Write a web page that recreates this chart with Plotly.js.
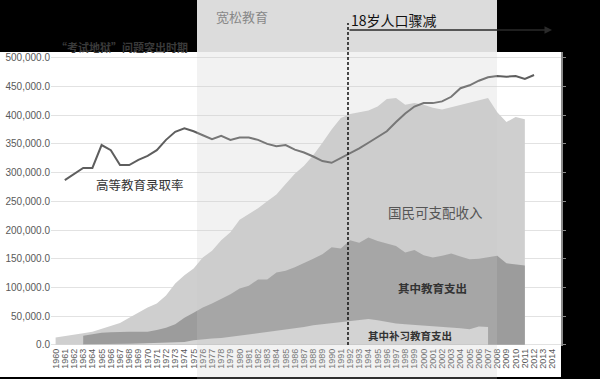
<!DOCTYPE html>
<html><head><meta charset="utf-8">
<script src="https://cdn.plot.ly/plotly-3.0.1.min.js"></script>
<style>html,body{margin:0;padding:0;background:#000;}#chart{width:600px;height:379px;}</style>
</head><body><div id="chart"></div>
<script>
// Years
const incomeYears = [1960,1961,1962,1963,1964,1965,1966,1967,1968,1969,1970,1971,1972,1973,1974,1975,1976,1977,1978,1979,1980,1981,1982,1983,1984,1985,1986,1987,1988,1989,1990,1991,1992,1993,1994,1995,1996,1997,1998,1999,2000,2001,2002,2003,2004,2005,2006,2007,2008,2009,2010,2011];
// 国民可支配收入
const incomeValues = [13000,15000,17000,20000,23000,28000,33000,38000,47000,56000,65000,72000,86000,107000,121000,133000,152000,164000,182000,196000,218000,228000,238000,250000,262000,280000,298000,312000,330000,352000,375000,395000,402000,405000,408000,415000,428000,430000,418000,421000,418000,413000,410000,414000,418000,421000,425000,430000,405000,388000,397000,393000];
const eduYears = [1963,1964,1965,1966,1967,1968,1969,1970,1971,1972,1973,1974,1975,1976,1977,1978,1979,1980,1981,1982,1983,1984,1985,1986,1987,1988,1989,1990,1991,1992,1993,1994,1995,1996,1997,1998,1999,2000,2001,2002,2003,2004,2005,2006,2007,2008,2009,2010,2011];
// 其中教育支出
const eduValues = [16000,19000,21000,22000,23000,23000,23000,23000,26000,30000,36000,47000,56000,65000,72000,80000,88000,98000,103000,114000,114000,126000,129000,135000,142000,150000,158000,170000,168000,182000,178000,187000,181000,176000,172000,161000,165000,156000,152000,155000,159000,154000,149000,150000,152000,155000,142000,140000,138000];
const tutorYears = [1963,1964,1965,1966,1967,1968,1969,1970,1971,1972,1973,1974,1975,1976,1977,1978,1979,1980,1981,1982,1983,1984,1985,1986,1987,1988,1989,1990,1991,1992,1993,1994,1995,1996,1997,1998,1999,2000,2001,2002,2003,2004,2005,2006,2007];
// 其中补习教育支出
const tutorValues = [1000,1000,1500,2000,2000,2000,2500,3000,3000,3500,4000,5000,8000,10000,11000,12000,14000,16000,18000,20000,22000,24000,26000,28000,31000,34000,36000,38000,40000,42000,44000,45000,43000,40000,37000,36000,35000,34000,33000,32000,31000,29000,27000,32000,31000];
const rateYears = [1961,1962,1963,1964,1965,1966,1967,1968,1969,1970,1971,1972,1973,1974,1975,1976,1977,1978,1979,1980,1981,1982,1983,1984,1985,1986,1987,1988,1989,1990,1991,1992,1993,1994,1995,1996,1997,1998,1999,2000,2001,2002,2003,2004,2005,2006,2007,2008,2009,2010,2011,2012];
// 高等教育录取率 (plotted on the unlabeled right axis)
const rateValues = [287000,297000,308000,308000,348000,339000,313000,313000,322000,329000,339000,357000,371000,377000,372000,365000,358000,364000,357000,361000,361000,357000,350000,346000,348000,340000,335000,328000,320000,317000,325000,334000,342000,352000,362000,372000,388000,403000,415000,421000,421000,424000,432000,447000,452000,460000,466000,468000,467000,468000,463000,470000];
const tickYears = [];
for (let y = 1960; y <= 2014; y++) tickYears.push(y);

const cjk = '"Noto Sans CJK SC", "Noto Sans", sans-serif';
const yRange = [-2000, 510000];

const traces = [
  {x: incomeYears, y: incomeValues, type: 'scatter', mode: 'lines', fill: 'tozeroy',
   fillcolor: '#cfcfcf', line: {color: '#cfcfcf', width: 0}, hoverinfo: 'skip', name: '国民可支配收入'},
  {x: eduYears, y: eduValues, type: 'scatter', mode: 'lines', fill: 'tozeroy',
   fillcolor: '#9c9c9c', line: {color: '#9c9c9c', width: 0}, hoverinfo: 'skip', name: '其中教育支出'},
  {x: tutorYears, y: tutorValues, type: 'scatter', mode: 'lines', fill: 'tozeroy',
   fillcolor: '#d6d6d6', line: {color: '#d6d6d6', width: 0}, hoverinfo: 'skip', name: '其中补习教育支出'},
  {x: rateYears, y: rateValues, type: 'scatter', mode: 'lines', yaxis: 'y2',
   line: {color: '#5e5e5e', width: 2}, hoverinfo: 'skip', name: '高等教育录取率'}
];

const px = p => (p - 51) / 510;
const py = p => (346 - p) / 294;

function label(x, y, text, size, color) {
  return {xref: 'paper', yref: 'paper', x: px(x), y: py(y), xanchor: 'center', yanchor: 'middle',
          text: text, showarrow: false, font: {family: cjk, size: size, color: color}};
}

const layout = {
  width: 600, height: 379,
  margin: {l: 51, r: 39, t: 52, b: 33, pad: 0},
  paper_bgcolor: '#000000',
  plot_bgcolor: '#ffffff',
  showlegend: false,
  font: {family: '"Liberation Sans", Arial, sans-serif', color: '#595959'},
  xaxis: {
    range: [1959.5, 2014.93], tickmode: 'array', tickvals: tickYears, ticktext: tickYears.map(String),
    tickangle: -90, tickfont: {size: 9, color: '#595959'}, showgrid: false, zeroline: false,
    showline: false, ticks: '', fixedrange: true
  },
  yaxis: {
    range: yRange, tick0: 0, dtick: 50000, tickformat: ',.1f', gridcolor: '#e2e2e2', gridwidth: 1,
    zeroline: false, showline: false, ticks: '', tickfont: {size: 10, color: '#595959'}, fixedrange: true
  },
  yaxis2: {
    range: yRange, overlaying: 'y', side: 'right', tick0: 0, dtick: 50000, showgrid: false,
    zeroline: false, showline: true, linecolor: '#8a8a8a', linewidth: 1.5, ticks: 'outside',
    ticklen: 3, tickcolor: '#8a8a8a', showticklabels: false, fixedrange: true
  },
  shapes: [
    {type: 'rect', xref: 'paper', yref: 'paper', layer: 'below', x0: px(0), x1: px(561), y0: py(377), y1: py(52),
     fillcolor: '#ffffff', line: {width: 0}},
    {type: 'rect', xref: 'paper', yref: 'paper', layer: 'above', x0: px(197), x1: px(497), y0: py(52), y1: py(0),
     fillcolor: '#dcdcdc', line: {width: 0}},
    {type: 'rect', xref: 'paper', yref: 'paper', layer: 'above', x0: px(197), x1: px(497), y0: py(379), y1: py(52),
     fillcolor: 'rgba(200,200,200,0.24)', line: {width: 0}},
    {type: 'line', xref: 'paper', yref: 'paper', layer: 'above', x0: px(348), x1: px(348), y0: py(345), y1: py(23),
     line: {color: '#111111', width: 1.5, dash: '3px,2px'}}
  ],
  annotations: [
    {xref: 'paper', yref: 'paper', x: px(552), y: py(30), ax: -204, ay: 0, axref: 'pixel', ayref: 'pixel',
     text: '', showarrow: true, arrowhead: 2, arrowsize: 1, arrowwidth: 1.5, arrowcolor: '#2a2a2a'},
    label(140, 185, '高等教育录取率', 12.5, '#333333'),
    label(435, 212, '国民可支配收入', 13.5, '#555555'),
    label(432, 288, '<b>其中教育支出</b>', 11.5, '#333333'),
    label(410, 335, '<b>其中补习教育支出</b>', 10.5, '#333333'),
    label(242, 17, '宽松教育', 13, '#888888'),
    label(394, 20, '18岁人口骤减', 14, '#111111'),
    label(122, 47, '<b>“考试地狱”问题突出时期</b>', 11, '#3a3a3a')
  ]
};

Plotly.newPlot('chart', traces, layout, {displayModeBar: false, staticPlot: true});
</script></body></html>
